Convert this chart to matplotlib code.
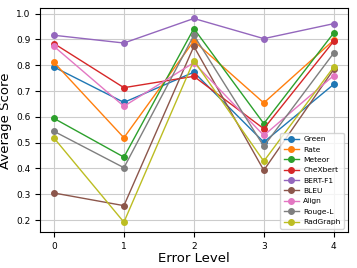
import numpy as np
import matplotlib
matplotlib.use("Agg")
import matplotlib.pyplot as plt

# error levels on x axis
levels = [0, 1, 2, 3, 4]

# average score per metric
green = [0.793, 0.656, 0.773, 0.502, 0.726]
rate = [0.811, 0.519, 0.894, 0.654, 0.897]
meteor = [0.594, 0.444, 0.942, 0.574, 0.925]
chexbert = [0.884, 0.713, 0.757, 0.554, 0.893]
bert_f1 = [0.916, 0.886, 0.981, 0.903, 0.961]
bleu = [0.305, 0.256, 0.873, 0.393, 0.784]
align = [0.873, 0.641, 0.810, 0.528, 0.760]
rouge_l = [0.544, 0.403, 0.916, 0.486, 0.847]
radgraph = [0.518, 0.192, 0.818, 0.428, 0.793]

series = [("Green", green), ("Rate", rate), ("Meteor", meteor),
          ("CheXbert", chexbert), ("BERT-F1", bert_f1), ("BLEU", bleu),
          ("Align", align), ("Rouge-L", rouge_l), ("RadGraph", radgraph)]

fig = plt.figure(figsize=(3.57, 2.68), dpi=100)
ax = fig.add_axes([0.112, 0.133, 0.862, 0.836])

for name, vals in series:
    ax.plot(levels, vals, marker="o", markersize=4, linewidth=1.0, label=name)

ax.set_xticks(levels)
ax.tick_params(labelsize=6.5)
ax.set_xlabel("Error Level", fontsize=9.5, labelpad=1)
ax.set_ylabel("Average Score", fontsize=9.5, labelpad=3)
ax.grid(True, color="#cccccc", linewidth=0.8)
ax.legend(loc="lower right", fontsize=5.4, handlelength=2.0, labelspacing=0.55,
          borderpad=0.45, handletextpad=0.6)

fig.savefig("out.png", dpi=100)
